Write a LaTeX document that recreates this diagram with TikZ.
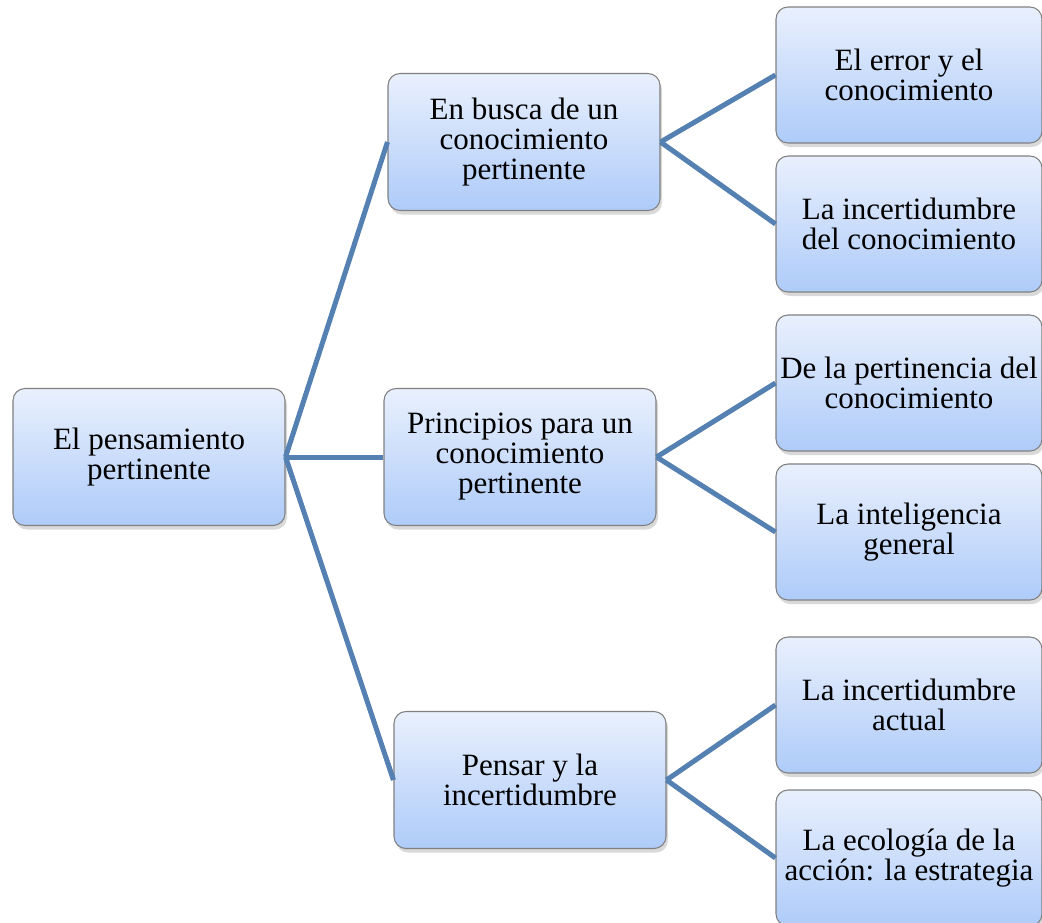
\documentclass[tikz,border=0pt]{standalone}
\usepackage{fontspec}
\setmainfont{Liberation Serif}
\usetikzlibrary{shadows}

\definecolor{linkblue}{RGB}{84,128,178}
\definecolor{boxtop}{RGB}{233,240,253}
\definecolor{boxbottom}{RGB}{174,203,249}
\definecolor{boxedge}{RGB}{128,128,128}

\tikzset{
  topic/.style={draw=boxedge, line width=0.8pt, rounded corners=9pt,
    top color=boxtop, bottom color=boxbottom,
    minimum width=204pt, minimum height=102.75pt, inner sep=0pt,
    align=center, font=\fontsize{23.25}{22.5}\selectfont,
    drop shadow={opacity=0.3, shadow xshift=1.5pt, shadow yshift=-3pt}},
  subtopic/.style={topic, minimum width=199.5pt, minimum height=102pt},
  link/.style={linkblue, line width=3.75pt}
}

\begin{document}
\begin{tikzpicture}[x=0.75pt, y=-0.75pt]
\useasboundingbox (0,0) rectangle (1042,922);
\clip (0,0) rectangle (1042,922);

% Main box
\node[topic] (root) at (149,457) {El pensamiento\\pertinente};

% Middle boxes
\node[topic] (busca) at (524,142) {En busca de un\\conocimiento\\pertinente};
\node[topic] (principios) at (520,457) {Principios para un\\conocimiento\\pertinente};
\node[topic] (pensar) at (530,780) {Pensar y la\\incertidumbre};

% Right boxes
\node[subtopic] (error) at (909,75) {El error y el\\conocimiento};
\node[subtopic] (incert) at (909,224) {La incertidumbre\\del conocimiento};
\node[subtopic] (pertinencia) at (909,383) {De la pertinencia del\\conocimiento};
\node[subtopic] (inteligencia) at (909,532) {La inteligencia\\general};
\node[subtopic] (actual) at (909,705) {La incertidumbre\\actual};
\node[subtopic] (ecologia) at (909,858) {La ecología de la\\acción: la estrategia};

% Links from main box
\draw[link] (root.east) -- (busca.west);
\draw[link] (root.east) -- (principios.west);
\draw[link] (root.east) -- (pensar.west);

% Links to right boxes
\draw[link] (busca.east) -- (error.west);
\draw[link] (busca.east) -- (incert.west);
\draw[link] (principios.east) -- (pertinencia.west);
\draw[link] (principios.east) -- (inteligencia.west);
\draw[link] (pensar.east) -- (actual.west);
\draw[link] (pensar.east) -- (ecologia.west);

\end{tikzpicture}
\end{document}
